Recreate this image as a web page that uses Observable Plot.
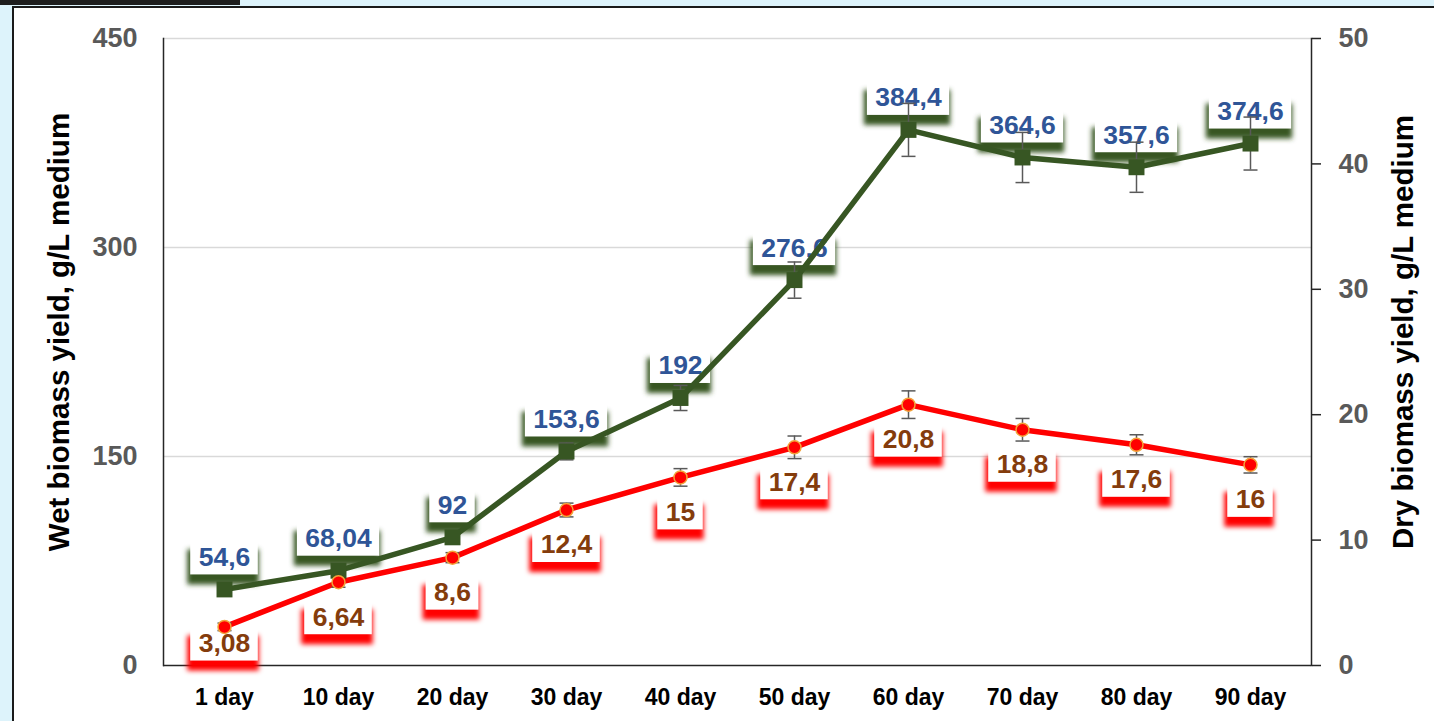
<!DOCTYPE html>
<html>
<head>
<meta charset="utf-8">
<script src="https://cdn.jsdelivr.net/npm/d3@7"></script>
<script src="https://cdn.jsdelivr.net/npm/@observablehq/plot@0.6"></script>
<style>
  html, body { margin: 0; padding: 0; }
  body { width: 1434px; height: 721px; overflow: hidden; background: #ddf3fb; position: relative; }
  #strip { position: absolute; left: 0; top: 0; width: 240px; height: 5px; background: #1e1e1e; }
  #panel { position: absolute; left: 12px; top: 6px; width: 1440px; height: 730px; background: #fff;
           border-left: 2px solid #1a1a1a; border-top: 2px solid #1a1a1a; }
  #chart { position: absolute; left: 0; top: 0; }
</style>
</head>
<body>
<div id="strip"></div>
<div id="panel"></div>
<div id="chart"></div>
<script>
const categories = ["1 day", "10 day", "20 day", "30 day", "40 day", "50 day", "60 day", "70 day", "80 day", "90 day"];
const wetValues = [54.6, 68.04, 92, 153.6, 192, 276.6, 384.4, 364.6, 357.6, 374.6];
const dryValues = [3.08, 6.64, 8.6, 12.4, 15, 17.4, 20.8, 18.8, 17.6, 16];
const wetErrors = [3, 3, 4, 6, 9, 13, 19, 18, 18, 19];
const dryErrors = [0.3, 0.4, 0.4, 0.55, 0.7, 0.9, 1.1, 0.9, 0.8, 0.65];
const wetTicks = [0, 150, 300, 450];
const dryTicks = [0, 10, 20, 30, 40, 50];
const wetTitle = "Wet biomass yield, g/L medium";
const dryTitle = "Dry biomass yield, g/L medium";

const ratio = 450 / 50; // right axis (dry) mapped onto left axis (wet)
const FONT = '"Liberation Sans", Arial, sans-serif';
const fmt = v => String(v).replace(".", ",");

const data = categories.map((day, i) => ({
  day,
  wet: wetValues[i],
  wetErr: wetErrors[i],
  dry: dryValues[i] * ratio,
  dryErr: dryErrors[i] * ratio,
  wetLabel: fmt(wetValues[i]),
  dryLabel: fmt(dryValues[i])
}));

// pixels per wet unit (plot height 627 px for 450 units)
const pxPerUnit = 627 / 450;

let filterCount = 0;
function boxedLabels(rows, {y, dy, text, textColor, shadowColor}) {
  const padX = 8, h = 35, fontSize = 26.5;
  return Plot.text(rows, {
    x: "day", y, dy, text, fill: textColor, fontSize, fontWeight: "bold", fontFamily: FONT,
    render(index, scales, values, dimensions, context, next) {
      const g = next(index, scales, values, dimensions, context);
      const ns = "http://www.w3.org/2000/svg";
      const wrap = document.createElementNS(ns, "g");
      const id = "blur" + (filterCount++);
      const defs = document.createElementNS(ns, "defs");
      defs.innerHTML = `<filter id="${id}" x="-20%" y="-50%" width="140%" height="200%"><feGaussianBlur stdDeviation="2.6"/></filter>`;
      wrap.appendChild(defs);
      const c = document.createElement("canvas").getContext("2d");
      c.font = `bold ${fontSize}px ${FONT}`;
      for (const i of index) {
        const cx = values.x[i], cy = values.y[i] + dy;
        const w = c.measureText(text(rows[i])).width + 2 * padX;
        const sh = document.createElementNS(ns, "rect");
        sh.setAttribute("x", cx - w / 2 - 3);
        sh.setAttribute("y", cy - h / 2 + 10);
        sh.setAttribute("width", w + 4);
        sh.setAttribute("height", h);
        sh.setAttribute("fill", shadowColor);
        sh.setAttribute("filter", `url(#${id})`);
        wrap.appendChild(sh);
        const r = document.createElementNS(ns, "rect");
        r.setAttribute("x", cx - w / 2);
        r.setAttribute("y", cy - h / 2);
        r.setAttribute("width", w);
        r.setAttribute("height", h);
        r.setAttribute("fill", "#ffffff");
        wrap.appendChild(r);
      }
      wrap.appendChild(g);
      return wrap;
    }
  });
}

const capSymbol = {
  draw(ctx, size) {
    const r = Math.sqrt(size / Math.PI);
    ctx.moveTo(-r, 0);
    ctx.lineTo(r, 0);
  }
};

const axisColor = "#262626";
const tickColor = "#595959";

const chart = Plot.plot({
  width: 1434,
  height: 721,
  marginLeft: 163,
  marginRight: 123,
  marginTop: 38,
  marginBottom: 56,
  style: {background: "transparent", fontFamily: FONT, overflow: "visible"},
  x: {type: "point", domain: categories, padding: 0.5, align: 0.5},
  y: {domain: [0, 450]},
  marks: [
    Plot.gridY([150, 300, 450], {stroke: "#d9d9d9", strokeOpacity: 1, strokeWidth: 1.3}),
    Plot.axisY(wetTicks, {anchor: "left", tickSize: 0, tickPadding: 26, fontSize: 27, fontWeight: "bold", fill: tickColor, label: null}),
    Plot.axisY(dryTicks.map(d => d * ratio), {anchor: "right", tickSize: 9, tickPadding: 18, tickFormat: d => d / ratio,
      fontSize: 27, fontWeight: "bold", fill: tickColor, stroke: axisColor, strokeWidth: 1.5, label: null}),
    Plot.axisX({tickSize: 0, tickPadding: 23, fontSize: 23, fontWeight: "bold", fill: "#000", label: null}),
    Plot.frame({anchor: "left", stroke: axisColor, strokeWidth: 1.5}),
    Plot.frame({anchor: "right", stroke: axisColor, strokeWidth: 1.5}),
    Plot.ruleY([0], {stroke: axisColor, strokeWidth: 1.5}),
    Plot.text([wetTitle], {frameAnchor: "left", textAnchor: "middle", lineAnchor: "middle", rotate: -90, dx: -104, dy: -20, fontSize: 29.5, fontWeight: "bold", fill: "#000"}),
    Plot.text([dryTitle], {frameAnchor: "right", textAnchor: "middle", lineAnchor: "middle", rotate: -90, dx: 92, dy: -20, fontSize: 29.5, fontWeight: "bold", fill: "#000"}),
    boxedLabels(data, {y: "wet", dy: -32, text: d => d.wetLabel, textColor: "#2f5597", shadowColor: "#375623"}),
    boxedLabels(data, {y: d => Math.max(d.dry - 35 / pxPerUnit, 1.75 * ratio), dy: 0, text: d => d.dryLabel, textColor: "#843c0c", shadowColor: "#ff0000"}),
    Plot.line(data, {x: "day", y: "wet", stroke: "#375623", strokeWidth: 5.5}),
    Plot.line(data, {x: "day", y: "dry", stroke: "#ff0000", strokeWidth: 5.5}),
    Plot.ruleX(data, {x: "day", y1: d => d.wet - d.wetErr, y2: d => d.wet + d.wetErr, stroke: tickColor, strokeWidth: 1.5}),
    Plot.dot(data, {x: "day", y: d => d.wet + d.wetErr, symbol: capSymbol, r: 7, stroke: tickColor, strokeWidth: 1.5, fill: "none"}),
    Plot.dot(data, {x: "day", y: d => d.wet - d.wetErr, symbol: capSymbol, r: 7, stroke: tickColor, strokeWidth: 1.5, fill: "none"}),
    Plot.ruleX(data, {x: "day", y1: d => d.dry - d.dryErr, y2: d => d.dry + d.dryErr, stroke: tickColor, strokeWidth: 1.5}),
    Plot.dot(data, {x: "day", y: d => d.dry + d.dryErr, symbol: capSymbol, r: 7, stroke: tickColor, strokeWidth: 1.5, fill: "none"}),
    Plot.dot(data, {x: "day", y: d => d.dry - d.dryErr, symbol: capSymbol, r: 7, stroke: tickColor, strokeWidth: 1.5, fill: "none"}),
    Plot.dot(data, {x: "day", y: "wet", symbol: "square", r: 9, fill: "#375623", stroke: "none"}),
    Plot.dot(data, {x: "day", y: "dry", r: 6.5, fill: "#ff0000", stroke: "#f2a33a", strokeWidth: 1.5})
  ]
});
document.getElementById("chart").appendChild(chart);
</script>
</body>
</html>
